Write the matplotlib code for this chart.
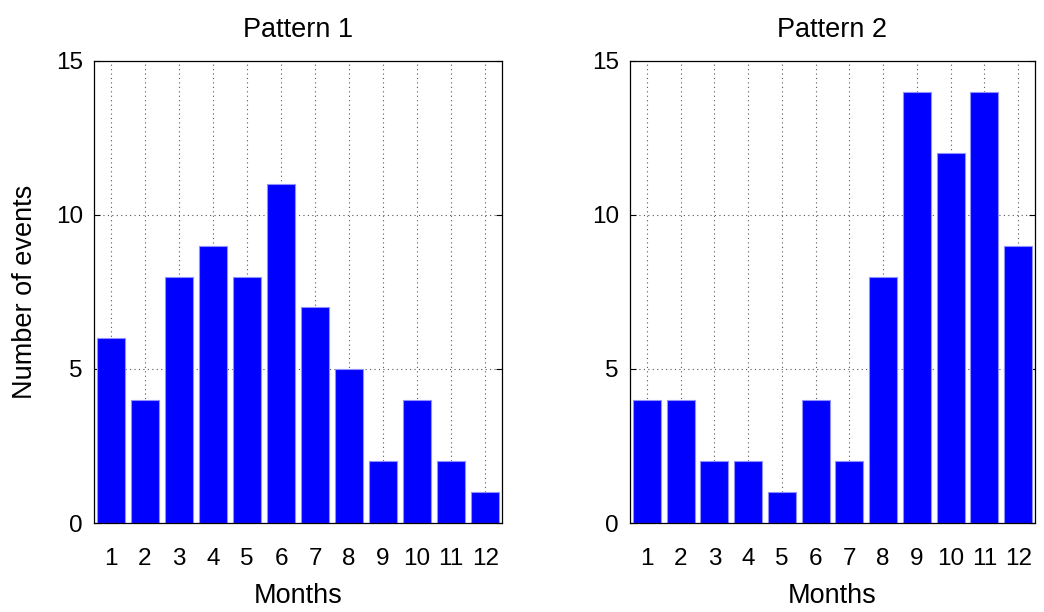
import numpy as np
import matplotlib
matplotlib.use("Agg")
import matplotlib.pyplot as plt

months = list(range(1, 13))
month_labels = [str(m) for m in months]
pattern1 = [6, 4, 8, 9, 8, 11, 7, 5, 2, 4, 2, 1]
pattern2 = [4, 4, 2, 2, 1, 4, 2, 8, 14, 12, 14, 9]
titles = ["Pattern 1", "Pattern 2"]
yticks = [0, 5, 10, 15]

plt.rcParams["font.family"] = ["Liberation Sans", "DejaVu Sans"]

fig = plt.figure(figsize=(10.44, 6.12), dpi=100)
ax1 = fig.add_axes([0.090, 0.1454, 0.391, 0.755])
ax2 = fig.add_axes([0.6034, 0.1454, 0.388, 0.755])

for ax, vals, title in zip([ax1, ax2], [pattern1, pattern2], titles):
    ax.set_axisbelow(True)
    ax.bar(months, vals, width=0.83, color="#0000ff", edgecolor="#9090ff", linewidth=0.8)
    ax.set_xlim(0.5, 12.5)
    ax.set_ylim(0, 15)
    ax.set_xticks(months)
    ax.set_xticklabels(month_labels)
    ax.set_yticks(yticks)
    ax.grid(True, linestyle=(0, (1, 3)), color="#555555", linewidth=0.8)
    ax.tick_params(direction="in", top=True, right=True, labelsize=17.5, length=4, pad=8)
    ax.tick_params(axis="x", length=0, pad=18)
    for s in ax.spines.values():
        s.set_linewidth(0.9)
    ax.set_title(title, fontsize=19.5, pad=17)
    ax.set_xlabel("Months", fontsize=19.5, labelpad=9)

ax1.set_ylabel("Number of events", fontsize=19.5, labelpad=13)

fig.savefig("out.png", dpi=100)
